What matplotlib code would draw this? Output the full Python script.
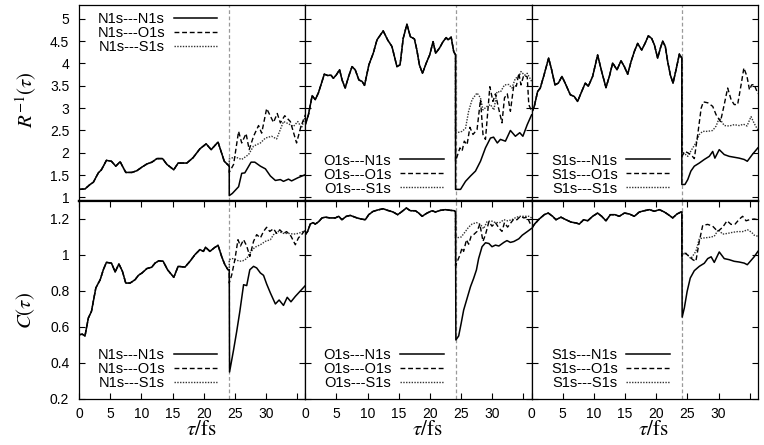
import numpy as np
import matplotlib
matplotlib.use("Agg")
import matplotlib.pyplot as plt
import matplotlib.ticker as ticker

# ── Data (tau in fs) ─────────────────────────────────────────────────────────
T_SECOND = 24.1          # time of the second core ionisation (gray marker)

# R^-1(tau), first hole N1s
R_N_pre_t = [0, 0.96, 1.77, 2.3, 3.1, 3.6, 4.4, 5.2, 5.9, 6.6, 7.5, 8.5, 9.3, 10.1, 10.9,
             11.7, 12.5, 13.4, 14.1, 15.2, 15.9, 17.3, 18.3, 19.4, 20.4, 21.2, 22.3, 23.3, 24.1]
R_N_pre_v = [1.18, 1.19, 1.29, 1.34, 1.55, 1.62, 1.83, 1.81, 1.70, 1.80, 1.56, 1.56, 1.60, 1.68, 1.75,
             1.79, 1.87, 1.87, 1.74, 1.62, 1.77, 1.77, 1.89, 2.09, 2.20, 2.07, 2.24, 1.81, 1.70]
R_NN_t = [24.1, 24.6, 25.6, 26.1, 26.6, 27.6, 28.2, 29.1, 29.9, 30.7, 31.5, 32.3, 32.8, 33.6, 34.1, 35.1, 36.3]
R_NN_v = [1.04, 1.09, 1.24, 1.54, 1.55, 1.79, 1.79, 1.70, 1.64, 1.48, 1.38, 1.40, 1.36, 1.41, 1.37, 1.44, 1.51]
R_NO_t = [24.1, 24.8, 25.6, 26.1, 26.8, 27.3, 28.0, 28.8, 29.3, 30.1, 31.2, 31.8, 32.3, 33.0, 33.9, 34.9, 35.6, 36.3]
R_NO_v = [1.56, 1.74, 2.48, 2.22, 2.43, 2.07, 2.37, 2.61, 2.44, 2.99, 2.68, 2.88, 2.67, 2.83, 2.70, 2.22, 2.59, 2.85]
R_NS_t = [24.1, 25.0, 26.1, 27.2, 28.0, 29.1, 29.9, 30.9, 31.7, 32.8, 33.6, 34.4, 35.1, 35.7, 36.3]
R_NS_v = [1.86, 1.91, 1.85, 1.96, 2.15, 2.22, 2.33, 2.37, 2.31, 2.70, 2.65, 2.59, 2.70, 2.56, 2.81]

# R^-1(tau), first hole O1s
R_O_pre_t = [0, 0.5, 1.1, 1.6, 2.1, 3.05, 3.6, 4.1, 4.5, 4.95, 5.5, 5.9, 6.4, 6.95, 7.5,
             8.0, 8.6, 9.1, 9.5, 10.2, 10.9, 11.5, 12.5, 13.2, 13.9, 14.7, 15.2, 15.7, 16.3, 16.85,
             17.5, 17.9, 18.3, 18.8, 19.4, 19.95, 20.5, 20.9, 21.5, 22.1, 22.6, 22.9, 23.4, 23.8, 24.1]
R_O_pre_v = [2.63, 2.85, 3.28, 3.19, 3.34, 3.76, 3.73, 3.74, 3.67, 3.74, 3.86, 3.63, 3.45, 3.71, 3.93,
             3.86, 3.63, 3.60, 3.51, 3.97, 4.23, 4.53, 4.73, 4.53, 4.38, 3.93, 3.97, 4.56, 4.88, 4.60,
             4.55, 4.30, 3.97, 3.78, 4.01, 4.19, 4.49, 4.23, 4.34, 4.49, 4.58, 4.53, 4.59, 4.27, 4.19]
R_ON_t = [24.1, 24.9, 25.7, 26.5, 27.3, 28.1, 28.9, 29.7, 30.2, 30.8, 31.3, 32.1, 32.9, 33.7, 34.4, 34.9, 35.6, 36.3]
R_ON_v = [1.18, 1.18, 1.36, 1.48, 1.59, 1.81, 2.11, 2.33, 2.35, 2.22, 2.30, 2.26, 2.50, 2.37, 2.45, 2.37, 2.63, 2.85]
R_OO_t = [24.1, 24.8, 25.15, 25.5, 25.95, 26.4, 26.9, 27.55, 28.1, 28.5, 28.9, 29.6, 30.1, 30.5,
          31.0, 31.55, 31.95, 32.4, 32.9, 33.45, 33.85, 34.25, 34.6, 35.05, 35.6, 35.85, 36.3]
R_OO_v = [1.81, 2.11, 2.04, 2.26, 2.18, 2.57, 2.41, 2.52, 3.19, 2.41, 2.30, 3.48, 3.15, 3.32,
          3.00, 2.67, 3.23, 3.32, 2.93, 3.52, 3.49, 3.78, 3.52, 3.74, 3.70, 3.08, 2.93]
R_OS_t = [24.1, 25.15, 25.7, 26.2, 26.75, 27.55, 28.1, 28.5, 29.15, 29.7, 30.25,
          30.75, 31.3, 31.95, 32.65, 33.15, 33.7, 34.25, 34.6, 35.15, 35.6, 36.3]
R_OS_v = [2.44, 2.48, 2.55, 2.93, 3.19, 3.34, 3.23, 2.96, 3.04, 3.08, 2.96,
          3.37, 3.36, 3.52, 3.53, 3.45, 3.67, 3.70, 3.82, 3.74, 3.78, 3.60]

# R^-1(tau), first hole S1s
R_S_pre_t = [0, 0.43, 0.96, 1.39, 1.93, 2.73, 3.21, 3.75, 4.28, 4.87, 5.51, 6.21, 6.85, 7.38, 8.03,
             8.61, 9.1, 9.79, 10.59, 11.24, 11.93, 12.47, 13.0, 13.7, 14.34, 14.88, 15.41, 15.95, 16.48, 17.01,
             17.66, 18.19, 18.73, 19.26, 19.69, 20.22, 20.65, 21.03, 21.45, 21.83, 22.26, 22.69, 23.17, 23.7, 24.1]
R_S_pre_v = [2.89, 3.04, 3.37, 3.45, 3.71, 4.12, 3.86, 3.52, 3.56, 3.71, 3.52, 3.30, 3.26, 3.15, 3.37,
             3.56, 3.49, 3.71, 4.19, 3.82, 3.46, 3.71, 4.01, 3.86, 4.06, 3.93, 3.76, 4.04, 4.27, 4.45,
             4.30, 4.45, 4.62, 4.56, 4.42, 4.12, 4.34, 4.50, 4.38, 4.04, 3.74, 3.56, 3.86, 4.21, 4.12]
R_SN_t = [24.1, 24.6, 25.05, 25.55, 26.1, 26.9, 27.7, 28.5, 29.05, 29.4, 30.1, 30.9, 31.7, 32.5, 33.3, 34.1, 34.6, 35.4, 36.3]
R_SN_v = [1.29, 1.29, 1.40, 1.59, 1.70, 1.77, 1.85, 1.92, 2.03, 1.88, 2.07, 1.96, 1.92, 1.90, 1.88, 1.85, 1.81, 1.96, 2.11]
R_SO_t = [24.1, 24.6, 25.05, 25.55, 26.1, 26.65, 27.2, 27.55, 28.25, 29.05, 29.6, 30.3,
          30.9, 31.45, 32.0, 32.5, 33.05, 33.6, 34.05, 34.55, 34.95, 35.3, 35.7, 36.3]
R_SO_v = [1.92, 2.03, 2.00, 1.96, 1.87, 2.41, 3.00, 3.14, 3.12, 3.04, 2.85, 2.70,
          3.08, 3.45, 3.19, 3.08, 3.08, 3.52, 3.90, 3.71, 3.41, 3.52, 3.53, 3.32]
R_SS_t = [24.1, 25.05, 25.85, 26.35, 26.9, 27.45, 28.25, 29.05, 29.6, 30.1, 30.9, 31.7, 32.5, 33.3, 34.0, 34.55, 35.2, 35.7, 36.3]
R_SS_v = [2.03, 1.92, 2.11, 2.22, 2.41, 2.48, 2.48, 2.50, 2.60, 2.78, 2.61, 2.60, 2.63, 2.61, 2.64, 2.60, 2.81, 2.66, 2.51]

# C(tau), first hole N1s
C_N_pre_t = [0, 0.53, 0.96, 1.5, 2.0, 2.7, 3.4, 3.9, 4.4, 5.2, 5.8, 6.4, 6.96, 7.5, 8.19, 9.0, 9.53, 10.1, 10.9,
             11.66, 12.2, 12.8, 13.5, 14.2, 15.2, 15.9, 17.0, 17.8, 18.6, 19.4, 19.96, 20.3, 21.0, 21.7, 22.3,
             22.9, 23.4, 23.9, 24.1]
C_N_pre_v = [0.557, 0.56, 0.55, 0.65, 0.687, 0.817, 0.863, 0.918, 0.959, 0.955, 0.906, 0.95, 0.91, 0.844, 0.844,
             0.863, 0.887, 0.90, 0.925, 0.932, 0.955, 0.968, 0.965, 0.918, 0.876, 0.937, 0.933, 0.965, 1.002, 1.03,
             1.02, 1.043, 1.02, 1.04, 1.054, 0.99, 0.946, 0.918, 0.918]
C_NN_t = [24.15, 24.8, 25.3, 25.8, 26.4, 26.9, 27.4, 28.0, 28.5, 29.1, 29.6, 30.1, 30.7, 31.5, 32.1, 32.8, 33.4,
          34.0, 34.7, 35.5, 36.3]
C_NN_v = [0.35, 0.474, 0.576, 0.687, 0.835, 0.83, 0.918, 0.937, 0.928, 0.90, 0.887, 0.839, 0.789, 0.728, 0.75,
          0.72, 0.765, 0.74, 0.77, 0.80, 0.83]
C_NO_t = [24.1, 24.5, 25.0, 25.5, 25.9, 26.4, 26.9, 27.4, 28.0, 28.5, 29.1, 29.6, 30.1, 30.6, 31.2, 31.7,
          32.2, 32.8, 33.3, 34.0, 34.7, 35.2, 35.7, 36.3]
C_NO_v = [0.844, 0.89, 0.974, 1.085, 1.05, 1.085, 1.05, 0.992, 1.076, 1.113, 1.095, 1.131, 1.154, 1.131, 1.146,
          1.12, 1.14, 1.12, 1.13, 1.105, 1.057, 1.095, 1.113, 1.14]
C_NS_t = [24.1, 24.6, 25.2, 25.7, 26.3, 26.9, 27.4, 28.2, 29.1, 29.9, 30.7, 31.2, 32.0, 32.8, 33.6, 34.4, 35.2, 36.3]
C_NS_v = [0.974, 0.98, 0.974, 0.965, 0.968, 0.98, 1.011, 1.043, 1.057, 1.076, 1.085, 1.113, 1.131, 1.12, 1.12,
          1.116, 1.12, 1.135]

# C(tau), first hole O1s
C_O_pre_t = [0, 0.375, 0.8, 1.23, 1.6, 2.14, 2.68, 3.21, 4.0, 4.82, 5.35, 5.88, 6.58, 7.22, 7.76,
             8.29, 8.93, 9.63, 10.17, 10.86, 11.61, 12.47, 13.2, 14.07, 14.82, 15.52, 16.21, 16.85, 17.66, 18.19,
             18.73, 19.53, 20.33, 20.87, 21.67, 22.47, 23.27, 23.92, 24.1]
C_O_pre_v = [1.113, 1.131, 1.172, 1.18, 1.172, 1.185, 1.206, 1.21, 1.206, 1.206, 1.215, 1.196, 1.215, 1.22, 1.213,
             1.206, 1.20, 1.196, 1.224, 1.242, 1.25, 1.257, 1.248, 1.239, 1.224, 1.242, 1.261, 1.246, 1.246, 1.233,
             1.215, 1.233, 1.246, 1.239, 1.248, 1.252, 1.248, 1.246, 1.239]
C_ON_t = [24.15, 24.6, 25.0, 25.4, 25.95, 26.5, 27.0, 27.45, 27.8, 28.35, 28.9, 29.45, 29.95, 30.5, 31.05,
          31.85, 32.35, 32.9, 33.45, 34.25, 34.8, 35.6, 36.3]
C_ON_v = [0.528, 0.55, 0.62, 0.694, 0.759, 0.824, 0.87, 0.917, 0.98, 1.046, 1.068, 1.064, 1.046, 1.055, 1.05,
          1.07, 1.08, 1.07, 1.075, 1.09, 1.11, 1.13, 1.148]
C_OO_t = [24.1, 24.8, 25.15, 25.4, 25.85, 26.2, 26.6, 27.0, 27.55, 28.0, 28.5, 28.9, 29.45, 29.95,
          30.5, 31.05, 31.55, 31.95, 32.45, 33.0, 33.45, 33.95, 34.5, 35.05, 35.6, 36.0, 36.3]
C_OO_v = [0.94, 1.00, 1.04, 1.02, 1.085, 1.06, 1.104, 1.113, 1.131, 1.172, 1.076, 1.113, 1.185, 1.16,
          1.18, 1.15, 1.131, 1.18, 1.155, 1.18, 1.20, 1.196, 1.215, 1.206, 1.21, 1.18, 1.16]
C_OS_t = [24.1, 25.0, 25.7, 26.2, 26.75, 27.45, 28.1, 28.6, 29.15, 29.8, 30.5, 31.2, 31.85, 32.45,
          33.15, 33.85, 34.5, 35.15, 35.85, 36.3]
C_OS_v = [1.094, 1.10, 1.131, 1.155, 1.172, 1.18, 1.17, 1.146, 1.185, 1.19, 1.18, 1.18, 1.196, 1.19,
          1.196, 1.21, 1.215, 1.215, 1.215, 1.206]

# C(tau), first hole S1s
C_S_pre_t = [0, 0.43, 1.23, 2.03, 2.67, 3.37, 3.91, 4.71, 5.51, 6.31, 7.12, 7.65, 8.35, 8.99, 9.79,
             10.59, 11.24, 11.93, 12.63, 13.37, 14.07, 14.88, 15.68, 16.48, 17.28, 18.09, 18.89, 19.69, 20.49,
             21.29, 21.94, 22.63, 23.33, 23.97, 24.1]
C_S_pre_v = [1.146, 1.17, 1.20, 1.224, 1.233, 1.215, 1.196, 1.21, 1.196, 1.183, 1.178, 1.172, 1.196, 1.19, 1.215,
             1.233, 1.215, 1.19, 1.224, 1.224, 1.215, 1.233, 1.228, 1.215, 1.239, 1.246, 1.252, 1.243, 1.252,
             1.239, 1.224, 1.206, 1.228, 1.239, 1.239]
C_SN_t = [24.15, 24.5, 24.95, 25.45, 26.1, 26.9, 27.7, 28.25, 28.8, 29.3, 30.1, 30.9, 31.7, 32.5, 33.3,
          34.1, 34.6, 35.3, 35.7, 36.3]
C_SN_v = [0.655, 0.706, 0.798, 0.872, 0.913, 0.937, 0.954, 0.98, 0.99, 0.959, 1.017, 0.98, 0.974, 0.965, 0.961,
          0.955, 0.946, 0.974, 0.99, 1.02]
C_SO_t = [24.1, 24.6, 25.1, 25.85, 26.35, 26.9, 27.45, 28.25, 29.05, 29.85, 30.65, 31.35, 32.0, 32.65,
          33.35, 33.85, 34.4, 34.95, 35.7, 36.3]
C_SO_v = [0.993, 1.01, 0.998, 0.974, 0.965, 1.076, 1.165, 1.17, 1.16, 1.131, 1.154, 1.19, 1.17, 1.172,
          1.20, 1.215, 1.19, 1.196, 1.20, 1.196]
C_SS_t = [24.1, 24.75, 25.55, 26.35, 26.9, 27.45, 28.5, 29.3, 29.95, 30.65, 31.45, 32.25, 33.05, 33.85,
          34.65, 35.3, 35.7, 36.3]
C_SS_v = [1.002, 1.01, 0.98, 1.02, 1.09, 1.094, 1.098, 1.104, 1.14, 1.116, 1.12, 1.126, 1.13, 1.13,
          1.14, 1.126, 1.11, 1.104]

HOLES = ["N1s", "O1s", "S1s"]
X_TICKS = [0, 5, 10, 15, 20, 25, 30, 35]
X_TICK_LABELS = ["0", "5", "10", "15", "20", "25", "30", ""]
R_TICKS = [1, 1.5, 2, 2.5, 3, 3.5, 4, 4.5, 5]
C_TICKS = [0.2, 0.4, 0.6, 0.8, 1.0, 1.2]

# ── Style ────────────────────────────────────────────────────────────────────
plt.rcParams["font.family"] = ["Liberation Sans", "DejaVu Sans"]
plt.rcParams["mathtext.fontset"] = "stix"
TICK_FS = 10
LEG_FS = 10.5
LABEL_FS = 15

STYLES = [
    dict(color="black", lw=1.1, ls="-", zorder=4),
    dict(color="black", lw=1.0, ls=(0, (3.5, 2.0)), zorder=3),
    dict(color="#333333", lw=1.0, ls=(0, (1, 1)), zorder=2),
]

XMAX = 36.3
LEFT, WIDTH = 79 / 764, 226.3 / 764
TOP_ROW = (1 - 201 / 445, 196 / 445)
BOT_ROW = (1 - 399 / 445, 198 / 445)

fig = plt.figure(figsize=(7.64, 4.45), dpi=100)

panels = [
    # row, col, pre-jump part (shared), post-jump parts (solid, dashed, dotted)
    (0, 0, R_N_pre_t, R_N_pre_v, [(R_NN_t, R_NN_v), (R_NO_t, R_NO_v), (R_NS_t, R_NS_v)]),
    (0, 1, R_O_pre_t, R_O_pre_v, [(R_ON_t, R_ON_v), (R_OO_t, R_OO_v), (R_OS_t, R_OS_v)]),
    (0, 2, R_S_pre_t, R_S_pre_v, [(R_SN_t, R_SN_v), (R_SO_t, R_SO_v), (R_SS_t, R_SS_v)]),
    (1, 0, C_N_pre_t, C_N_pre_v, [(C_NN_t, C_NN_v), (C_NO_t, C_NO_v), (C_NS_t, C_NS_v)]),
    (1, 1, C_O_pre_t, C_O_pre_v, [(C_ON_t, C_ON_v), (C_OO_t, C_OO_v), (C_OS_t, C_OS_v)]),
    (1, 2, C_S_pre_t, C_S_pre_v, [(C_SN_t, C_SN_v), (C_SO_t, C_SO_v), (C_SS_t, C_SS_v)]),
]

fmt = ticker.FuncFormatter(lambda v, p: f"{v:g}")
LEG_KW = dict(frameon=False, markerfirst=False, fontsize=LEG_FS, handlelength=3.0,
              handletextpad=0.6, labelspacing=0.0, borderpad=0.0, borderaxespad=0.0)

for row, col, pre_t, pre_v, posts in panels:
    bottom, height = TOP_ROW if row == 0 else BOT_ROW
    ax = fig.add_axes([LEFT + col * WIDTH, bottom, WIDTH, height])

    ax.axvline(T_SECOND, color="#9a9a9a", lw=0.9, ls=(0, (3, 2)), zorder=1)

    handles = []
    for (t, v), st in zip(posts, STYLES):
        line, = ax.plot(list(pre_t) + list(t), list(pre_v) + list(v), **st)
        handles.append(line)

    labels = [f"{HOLES[col]}---{h}" for h in HOLES]
    if row == 0 and col == 0:
        ax.legend(handles, labels, loc="upper right", bbox_to_anchor=(0.612, 0.965), **LEG_KW)
    elif row == 0:
        ax.legend(handles, labels, loc="lower right", bbox_to_anchor=(0.612, 0.028), **LEG_KW)
    else:
        ax.legend(handles, labels, loc="lower right", bbox_to_anchor=(0.612, 0.045), **LEG_KW)

    ax.set_xlim(0, XMAX)
    if row == 0:
        ax.set_ylim(0.92, 5.31)
        ax.set_yticks(R_TICKS)
    else:
        ax.set_ylim(0.2, 1.3)
        ax.set_yticks(C_TICKS)
    ax.yaxis.set_major_formatter(fmt)
    ax.set_xticks(X_TICKS)
    ax.set_xticklabels(X_TICK_LABELS)

    ax.tick_params(direction="in", length=4.5, width=0.8, labelsize=TICK_FS,
                   left=True, right=True, top=(row == 1), bottom=(row == 1),
                   labelleft=(col == 0), labelbottom=(row == 1))
    ax.tick_params(axis="x", pad=5.5)
    ax.tick_params(axis="y", pad=7)
    for s in ax.spines.values():
        s.set_linewidth(0.9)
    if row == 0:
        ax.spines["bottom"].set_linewidth(1.6)
    else:
        ax.spines["top"].set_linewidth(1.6)
        ax.text(0.54, -0.182, r"$\tau/\mathrm{fs}$", transform=ax.transAxes,
                ha="center", va="baseline", fontsize=LABEL_FS)

fig.text(0.034, 1 - 100 / 445, r"$R^{-1}(\tau)$", rotation=90, ha="center", va="center", fontsize=LABEL_FS)
fig.text(0.033, 1 - 310 / 445, r"$C(\tau)$", rotation=90, ha="center", va="center", fontsize=LABEL_FS)

fig.savefig("out.png", dpi=100)
